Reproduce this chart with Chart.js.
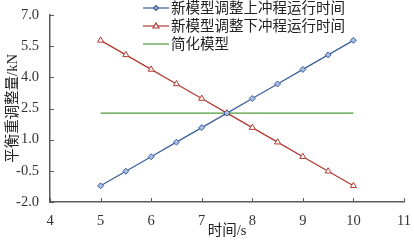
<!DOCTYPE html>
<html>
<head>
<meta charset="utf-8">
<script src="https://cdn.jsdelivr.net/npm/chart.js@4"></script>
<style>
  html, body { margin: 0; padding: 0; background: #fff; }
  #wrap { width: 414px; height: 241px; }
</style>
</head>
<body>
<div id="wrap"><canvas id="c" width="414" height="241"></canvas></div>
<script>
// 数据
const times = [5, 5.5, 6, 6.5, 7, 7.5, 8, 8.5, 9, 9.5, 10];
const upStroke = [-1.22, -0.52, 0.18, 0.88, 1.58, 2.28, 2.98, 3.68, 4.38, 5.08, 5.78];
const downStroke = [5.78, 5.08, 4.38, 3.68, 2.98, 2.28, 1.58, 0.88, 0.18, -0.52, -1.22];
const simpleTimes = [5, 10];
const simpleValues = [2.28, 2.28];
const seriesLabels = ['新模型调整上冲程运行时间', '新模型调整下冲程运行时间', '简化模型'];
const xTicks = [4, 5, 6, 7, 8, 9, 10, 11];
const yTicks = [-2.0, -0.5, 1.0, 2.5, 4.0, 5.5, 7.0];

const toPoints = (xs, ys) => xs.map((x, i) => ({ x: x, y: ys[i] }));
const FONT = '"Liberation Serif", "Noto Sans CJK SC", serif';
const AXIS_COLOR = '#5a5a5a';

// 内向刻度 + 图内图例
const innerDecor = {
  id: 'innerDecor',
  afterDraw(chart) {
    const ctx = chart.ctx;
    const xs = chart.scales.x, ys = chart.scales.y;
    const area = chart.chartArea;
    ctx.save();
    ctx.strokeStyle = AXIS_COLOR;
    ctx.lineWidth = 1;
    xTicks.forEach(v => {
      const px = Math.round(xs.getPixelForValue(v)) + 0.5;
      ctx.beginPath();
      ctx.moveTo(px, area.bottom);
      ctx.lineTo(px, area.bottom - 4);
      ctx.stroke();
    });
    yTicks.forEach(v => {
      const py = Math.round(ys.getPixelForValue(v)) + 0.5;
      ctx.beginPath();
      ctx.moveTo(area.left, py);
      ctx.lineTo(area.left + 4, py);
      ctx.stroke();
    });

    // 图例
    const lx = 143, ly = 8, gap = 18;
    ctx.font = '14.5px ' + FONT;
    ctx.textBaseline = 'middle';
    chart.data.datasets.forEach((ds, i) => {
      const y = ly + i * gap;
      ctx.strokeStyle = ds.borderColor;
      ctx.lineWidth = 1.2;
      ctx.beginPath();
      ctx.moveTo(lx, y);
      ctx.lineTo(lx + 26, y);
      ctx.stroke();
      if (ds.pointRadius > 0) {
        ctx.fillStyle = ds.pointBackgroundColor;
        ctx.strokeStyle = ds.borderColor;
        ctx.beginPath();
        const cx = lx + 13;
        if (ds.pointStyle === 'rectRot') {
          ctx.moveTo(cx, y - 2.5); ctx.lineTo(cx + 2.5, y); ctx.lineTo(cx, y + 2.5); ctx.lineTo(cx - 2.5, y);
        } else {
          ctx.moveTo(cx, y - 3); ctx.lineTo(cx + 3, y + 2); ctx.lineTo(cx - 3, y + 2);
        }
        ctx.closePath();
        ctx.fill();
        ctx.stroke();
      }
      ctx.fillStyle = '#222';
      ctx.fillText(ds.label, lx + 28, y + 1);
    });
    ctx.restore();
  }
};

new Chart(document.getElementById('c').getContext('2d'), {
  type: 'line',
  data: {
    datasets: [
      {
        label: seriesLabels[0],
        data: toPoints(times, upStroke),
        borderColor: '#3d5f9e',
        borderWidth: 1.3,
        pointStyle: 'rectRot',
        pointRadius: 3,
        pointBackgroundColor: '#a9bde0',
        pointBorderColor: '#3d5f9e',
        pointBorderWidth: 1,
        tension: 0
      },
      {
        label: seriesLabels[1],
        data: toPoints(times, downStroke),
        borderColor: '#b23a32',
        borderWidth: 1.3,
        pointStyle: 'triangle',
        pointRadius: 3.5,
        pointBackgroundColor: '#ffffff',
        pointBorderColor: '#b23a32',
        pointBorderWidth: 1,
        tension: 0
      },
      {
        label: seriesLabels[2],
        data: toPoints(simpleTimes, simpleValues),
        borderColor: '#4f9a3c',
        borderWidth: 1.2,
        pointRadius: 0,
        tension: 0
      }
    ]
  },
  options: {
    responsive: false,
    animation: false,
    layout: { padding: { top: 15, right: 10, left: 4, bottom: 0 } },
    plugins: { legend: { display: false }, tooltip: { enabled: false } },
    scales: {
      x: {
        type: 'linear',
        min: 4, max: 11,
        afterBuildTicks: s => { s.ticks = xTicks.map(v => ({ value: v })); },
        afterFit: s => { s.height = 39; },
        grid: { display: false },
        border: { display: true, color: AXIS_COLOR, width: 1.5 },
        ticks: { color: '#333', font: { family: FONT, size: 14.5 }, padding: 2, maxRotation: 0 },
        title: { display: true, text: '时间/s', color: '#222', font: { family: FONT, size: 14.5 }, padding: { top: 0, bottom: 1 } }
      },
      y: {
        type: 'linear',
        min: -2, max: 7,
        afterBuildTicks: s => { s.ticks = yTicks.map(v => ({ value: v })); },
        afterFit: s => { s.width = 46; },
        grid: { display: false },
        border: { display: true, color: AXIS_COLOR, width: 1.5 },
        ticks: { color: '#333', font: { family: FONT, size: 14.5 }, padding: 3, callback: v => v.toFixed(1) },
        title: { display: true, text: '平衡重调整量/kN', color: '#222', font: { family: FONT, size: 14.5 }, padding: 0 }
      }
    }
  },
  plugins: [innerDecor]
});
</script>
</body>
</html>
